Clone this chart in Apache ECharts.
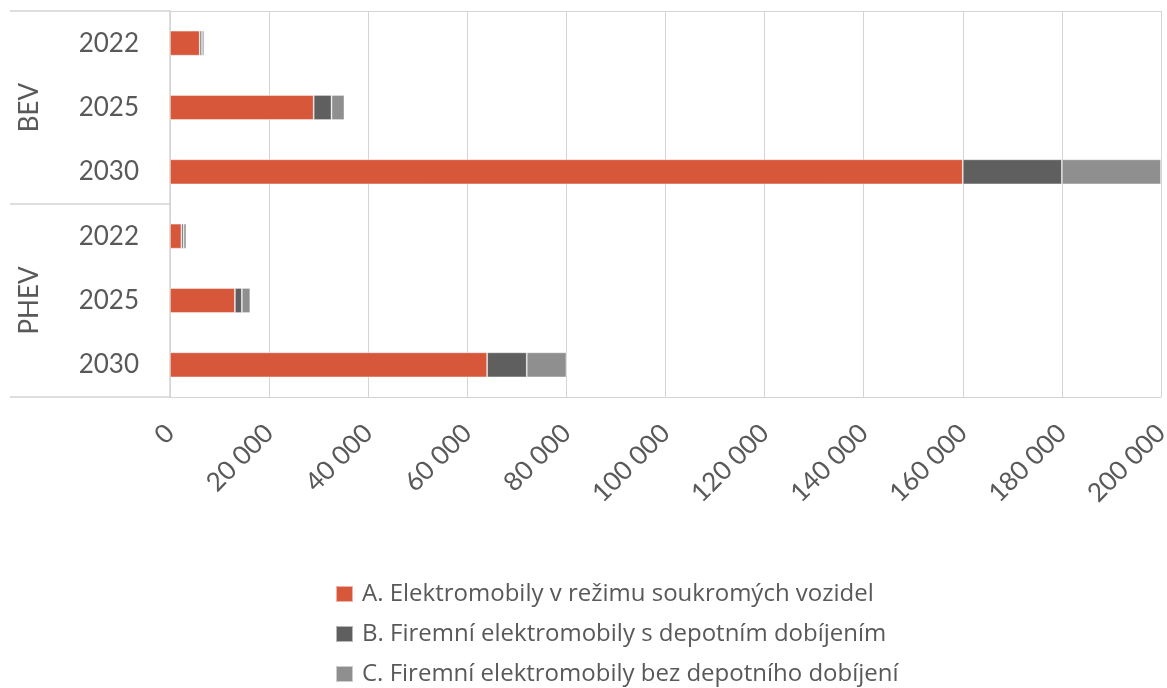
<!DOCTYPE html>
<html>
<head>
<meta charset="utf-8">
<script src="https://cdn.jsdelivr.net/npm/echarts@6/dist/echarts.min.js"></script>
<style>
  html, body { margin: 0; padding: 0; background: #ffffff; }
  #chart { width: 1167px; height: 688px; }
</style>
</head>
<body>
<div id="chart"></div>
<script>
// Vehicle groups and years shown on the two-level vertical axis
const groups = ['BEV', 'PHEV'];
const years = ['2022', '2025', '2030', '2022', '2025', '2030'];

// Series names
const seriesNames = [
  'A. Elektromobily v režimu soukromých vozidel',
  'B. Firemní elektromobily s depotním dobíjením',
  'C. Firemní elektromobily bez depotního dobíjení'
];

// Values per row: BEV 2022, 2025, 2030, PHEV 2022, 2025, 2030
const privateCars = [6000, 29000, 160000, 2300, 13100, 64000];
const fleetDepot = [450, 3600, 20000, 450, 1400, 8000];
const fleetNoDepot = [450, 2600, 20000, 550, 1700, 8000];

// X-axis range and tick step
const xMin = 0;
const xMax = 200000;
const xStep = 20000;

const colors = ['#D6573A', '#5F5F5F', '#8F8F8F'];
const textColor = '#595959';
const lineColor = '#d4d4d4';
const fontFamily = 'Lato, "Open Sans", sans-serif';
const legendFont = '"Open Sans", Lato, sans-serif';

function fmt(v) {
  return String(v).replace(/\B(?=(\d{3})+(?!\d))/g, ' ');
}

const chart = echarts.init(document.getElementById('chart'), null, { renderer: 'canvas' });

const seriesData = [privateCars, fleetDepot, fleetNoDepot];

chart.setOption({
  animation: false,
  backgroundColor: '#ffffff',
  textStyle: { fontFamily: fontFamily },
  grid: {
    left: 170,
    right: 6,
    top: 11,
    bottom: 291,
    containLabel: false,
    outerBoundsMode: 'none'
  },
  legend: {
    orient: 'vertical',
    left: 335,
    top: 582,
    height: 110,
    padding: 0,
    itemWidth: 17,
    itemHeight: 16,
    itemGap: 16,
    icon: 'rect',
    selectedMode: false,
    data: seriesNames,
    textStyle: {
      fontFamily: legendFont,
      fontSize: 24,
      lineHeight: 24,
      color: textColor,
      padding: [0, 0, 0, 4]
    }
  },
  xAxis: [
    {
      type: 'value',
      position: 'bottom',
      min: xMin,
      max: xMax,
      interval: xStep,
      axisLine: { show: true, lineStyle: { color: lineColor, width: 1 } },
      axisTick: { show: false },
      splitLine: { show: true, lineStyle: { color: lineColor, width: 1 } },
      axisLabel: {
        rotate: 45,
        margin: 32,
        fontSize: 26,
        color: textColor,
        fontFamily: fontFamily,
        formatter: fmt
      }
    },
    {
      type: 'value',
      position: 'top',
      min: xMin,
      max: xMax,
      interval: xStep,
      axisLine: { show: true, lineStyle: { color: lineColor, width: 1 } },
      axisTick: { show: false },
      axisLabel: { show: false },
      splitLine: { show: false }
    }
  ],
  yAxis: [
    {
      type: 'category',
      data: years,
      inverse: true,
      position: 'left',
      axisLine: { show: true, lineStyle: { color: lineColor, width: 1.5 } },
      axisTick: { show: false },
      splitLine: { show: false },
      axisLabel: {
        margin: 31,
        fontSize: 26,
        color: textColor,
        fontFamily: fontFamily
      }
    },
    {
      type: 'category',
      data: groups,
      inverse: true,
      position: 'left',
      offset: 160,
      axisLine: { show: false },
      axisTick: {
        show: true,
        inside: false,
        length: 160,
        lineStyle: { color: lineColor, width: 1.5 }
      },
      splitLine: { show: false },
      axisLabel: {
        inside: true,
        rotate: 90,
        margin: 7,
        fontSize: 26,
        color: textColor,
        fontFamily: fontFamily
      }
    }
  ],
  series: seriesNames.map((name, i) => ({
    name: name,
    type: 'bar',
    stack: 'total',
    xAxisIndex: 0,
    yAxisIndex: 0,
    barWidth: 25,
    data: seriesData[i],
    itemStyle: {
      color: colors[i],
      borderColor: 'rgba(255,255,255,0.55)',
      borderWidth: 0.8
    },
    emphasis: { disabled: true }
  }))
});
</script>
</body>
</html>
